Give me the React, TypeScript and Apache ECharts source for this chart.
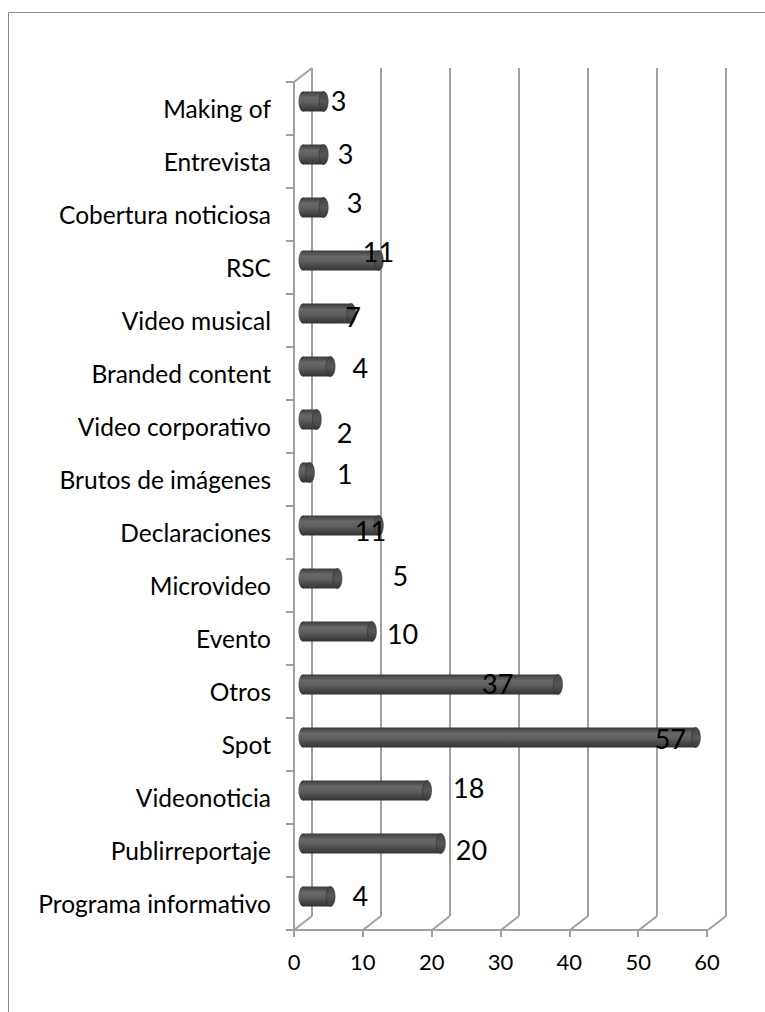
import React, { useEffect, useRef } from "react";
import * as echarts from "echarts";

const categories = [
  "Making of",
  "Entrevista",
  "Cobertura noticiosa",
  "RSC",
  "Video musical",
  "Branded content",
  "Video corporativo",
  "Brutos de imágenes",
  "Declaraciones",
  "Microvideo",
  "Evento",
  "Otros",
  "Spot",
  "Videonoticia",
  "Publirreportaje",
  "Programa informativo",
];
const values = [3, 3, 3, 11, 7, 4, 2, 1, 11, 5, 10, 37, 57, 18, 20, 4];
const xTicks = [0, 10, 20, 30, 40, 50, 60];

// label placement offsets (style only), relative to bar end
const labelDx = [7, 14, 23, -16, -6, 22, 20, 27, -24, 55, 15, -76, -41, 26, 15, 22];
const labelDy = [-1, -1, -5, -9, 3, 1, 13, 1, 5, -3, 2, -1, 1, -3, 6, -1];

const FONT = "Lato, 'Open Sans', sans-serif";
const LINE = "#a0a0a0";

export default function App() {
  const ref = useRef<HTMLDivElement>(null);

  useEffect(() => {
    if (!ref.current) return;
    const chart = echarts.init(ref.current, undefined, { renderer: "svg" });

    const bodyGrad = new echarts.graphic.LinearGradient(0, 0, 0, 1, [
      { offset: 0, color: "#3a3a3a" },
      { offset: 0.3, color: "#686868" },
      { offset: 0.55, color: "#5e5e5e" },
      { offset: 1, color: "#323232" },
    ]);
    const capGrad = new echarts.graphic.LinearGradient(0, 0, 0, 1, [
      { offset: 0, color: "#444" },
      { offset: 0.5, color: "#575757" },
      { offset: 1, color: "#383838" },
    ]);

    const option: any = {
      animation: false,
      backgroundColor: "#ffffff",
      graphic: [
        {
          type: "rect",
          shape: { x: 8.5, y: 12.5, width: 800, height: 1100 },
          style: { fill: "none", stroke: "#8a8a8a", lineWidth: 1 },
          silent: true,
          z: -10,
        },
      ],
      grid: [
        { left: 294, top: 82, width: 413, height: 848 },
        { left: 312, top: 68, width: 414, height: 848 },
        { left: 303, top: 75, width: 413.5, height: 848 },
      ],
      xAxis: [
        {
          gridIndex: 0,
          type: "value",
          min: 0,
          max: 60,
          interval: 10,
          axisLine: { show: true, lineStyle: { color: LINE, width: 2 } },
          axisTick: { show: true, length: 7, lineStyle: { color: LINE, width: 2 } },
          axisLabel: {
            show: true,
            fontSize: 22,
            fontFamily: FONT,
            color: "#000",
            margin: 20,
            formatter: (v: number) => (xTicks.includes(v) ? String(v) : ""),
          },
          splitLine: { show: false },
        },
        {
          gridIndex: 1,
          type: "value",
          min: 0,
          max: 60,
          interval: 10,
          axisLine: { show: false },
          axisTick: { show: false },
          axisLabel: { show: false },
          splitLine: { show: true, lineStyle: { color: LINE, width: 2 } },
        },
        {
          gridIndex: 2,
          type: "value",
          min: 0,
          max: 60,
          interval: 10,
          show: false,
        },
      ],
      yAxis: [
        {
          gridIndex: 0,
          type: "category",
          data: categories,
          inverse: true,
          axisLine: { show: true, lineStyle: { color: LINE, width: 2 } },
          axisTick: { show: true, length: 8, lineStyle: { color: LINE, width: 2 } },
          axisLabel: {
            fontSize: 24.5,
            fontFamily: FONT,
            color: "#000",
            margin: 23,
          },
          splitLine: { show: false },
        },
        {
          gridIndex: 1,
          type: "value",
          min: 0,
          max: 1,
          show: false,
        },
        {
          gridIndex: 2,
          type: "category",
          data: categories,
          inverse: true,
          show: false,
        },
      ],
      series: [
        {
          type: "custom",
          xAxisIndex: 1,
          yAxisIndex: 1,
          silent: true,
          data: [...xTicks.map((v) => [v, 0]), [0, 1]],
          renderItem: (params: any, api: any) => {
            const p = api.coord([api.value(0), api.value(1)]);
            return {
              type: "line",
              shape: { x1: p[0], y1: p[1], x2: p[0] - 18, y2: p[1] + 14 },
              style: { stroke: LINE, lineWidth: 2 },
            };
          },
          z: 1,
        },
        {
          type: "custom",
          xAxisIndex: 2,
          yAxisIndex: 2,
          silent: true,
          encode: { x: 0, y: 1 },
          data: values.map((v, i) => [v, i]),
          renderItem: (params: any, api: any) => {
            const v = api.value(0);
            const i = api.value(1);
            const idx = params.dataIndex;
            const p0 = api.coord([0, i]);
            const p1 = api.coord([v, i]);
            const h = 20;
            const rx = 4.5;
            const cy = p0[1];
            return {
              type: "group",
              children: [
                {
                  type: "ellipse",
                  shape: { cx: p0[0], cy, rx, ry: h / 2 },
                  style: { fill: bodyGrad },
                },
                {
                  type: "rect",
                  shape: { x: p0[0], y: cy - h / 2, width: p1[0] - p0[0], height: h },
                  style: { fill: bodyGrad },
                },
                {
                  type: "ellipse",
                  shape: { cx: p1[0], cy, rx, ry: h / 2 },
                  style: { fill: capGrad, stroke: "#303030", lineWidth: 0.6 },
                },
                {
                  type: "text",
                  x: p1[0] + labelDx[idx],
                  y: cy + labelDy[idx],
                  style: {
                    text: String(v),
                    fontSize: 27,
                    fontFamily: FONT,
                    fill: "#000",
                    align: "left",
                    verticalAlign: "middle",
                  },
                  z2: 10,
                },
              ],
            };
          },
          z: 3,
        },
      ],
    };

    chart.setOption(option);
    return () => chart.dispose();
  }, []);

  return (
    <div
      ref={ref}
      style={{ position: "absolute", left: 0, top: 0, width: 765, height: 1012 }}
    />
  );
}
